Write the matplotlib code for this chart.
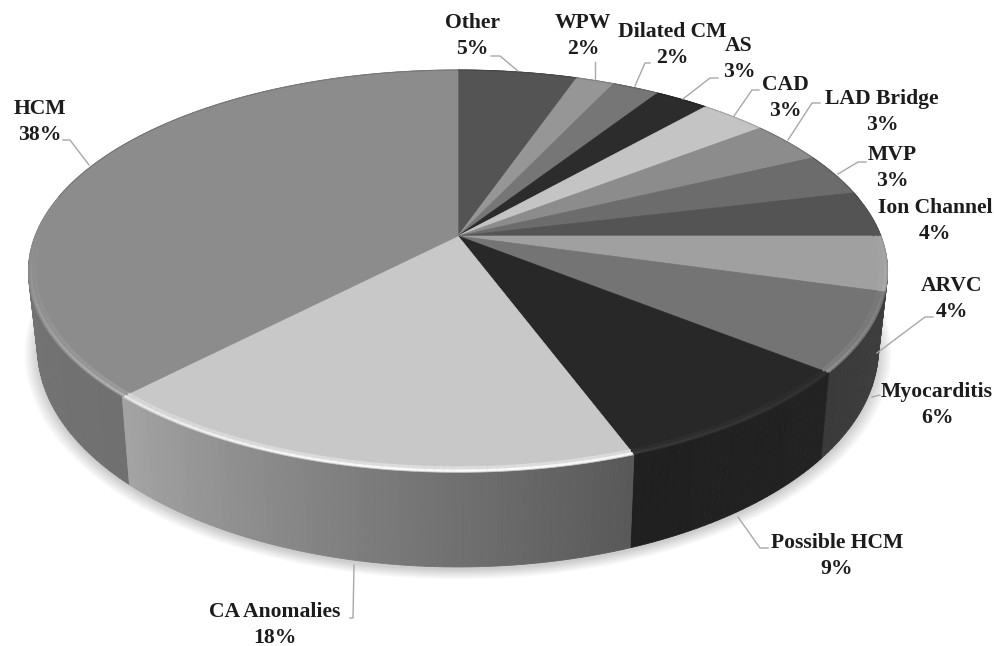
import numpy as np
import matplotlib
matplotlib.use('Agg')
import matplotlib.pyplot as plt

# clockwise from 12 o'clock
names = ['Other', 'WPW', 'Dilated CM', 'AS', 'CAD', 'LAD Bridge', 'MVP', 'Ion Channel',
         'ARVC', 'Myocarditis', 'Possible HCM', 'CA Anomalies', 'HCM']
percent_text = [5, 2, 2, 3, 3, 3, 3, 4, 4, 6, 9, 18, 38]
# slice sizes as measured on the drawing
shares = [5.3, 1.7, 2.1, 2.4, 3.0, 3.4, 3.4, 3.7, 4.4, 6.35, 8.6, 17.85, 37.8]

top_grey = [84, 150, 118, 44, 196, 140, 108, 84, 160, 116, 40, 200, 140]
side_from = [70, 110, 90, 30, 130, 100, 80, 60, 72, 62, 34, 88, 112]
side_to = [70, 110, 90, 30, 130, 100, 80, 60, 66, 58, 32, 165, 126]

label_x = [472, 583, 672, 739, 785, 882, 892, 935, 952, 937, 837, 275, 40]
label_y = [36, 36, 45, 59, 98, 112, 168, 221, 299, 405, 556, 625, 122]

leaders = [
    [(491, 56), (500, 56), (518, 71)],
    [(595, 62), (595, 79)],
    [(650, 63), (645, 63), (635, 86)],
    [(718, 78), (710, 78), (683, 99)],
    [(759, 90), (752, 90), (734, 116)],
    [(820, 103), (812, 103), (788, 140)],
    [(866, 162), (858, 162), (838, 174)],
    [(933, 317), (925, 317), (877, 353)],
    [(880, 395), (872, 397)],
    [(768, 548), (760, 548), (738, 517)],
    [(350, 618), (353, 618), (354, 565)],
    [(63, 140), (70, 140), (89, 165)],
]

cx = 458
k = 0.175


def project(ang, r, y0, a, b):
    # perspective view of the disc, ang in degrees clockwise from top
    X = r * np.sin(np.radians(ang))
    Y = r * np.cos(np.radians(ang))
    d = 1 + k * Y
    return cx + b * X / d, y0 - a * Y / d


def top(ang, r=1.0):
    return project(ang, r, 236, 195, 423)


def bottom(ang, r=1.0):
    return project(ang, r, 310, 212, 414)


def grey(v):
    v = min(max(v, 0), 255) / 255
    return (v, v, v)


fig = plt.figure(figsize=(9.95, 6.46), dpi=100)
ax = fig.add_axes([0, 0, 1, 1])
ax.set_xlim(0, 995)
ax.set_ylim(646, 0)
ax.axis('off')

edges = np.concatenate([[0], np.cumsum(shares)]) * 360 / sum(shares)

# soft shadow under the disc
circle = np.linspace(0, 360, 361)
for grow in np.linspace(1.03, 1.0, 10):
    sx, sy = bottom(circle, grow)
    ax.fill(sx, sy + 3, color='black', alpha=0.02, lw=0, zorder=1)

# rim
quads = []
for i in range(len(shares)):
    steps = np.arange(edges[i], edges[i + 1], 1.0)
    steps = np.append(steps, edges[i + 1])
    for j in range(len(steps) - 1):
        a0, a1 = steps[j], steps[j + 1]
        f = (j + 0.5) / (len(steps) - 1)
        quads.append((np.cos(np.radians(a0)), a0, a1, side_from[i] + (side_to[i] - side_from[i]) * f))
quads.sort(key=lambda q: -q[0])
for _, a0, a1, g in quads:
    tx, ty = top(np.array([a0, a1]))
    bx, by = bottom(np.array([a1, a0]))
    ax.fill(np.r_[tx, bx], np.r_[ty, by], color=grey(g), lw=0.6, zorder=2)

# top face
for i in range(len(shares)):
    arc = np.linspace(edges[i], edges[i + 1], 80)
    x, y = top(arc)
    ax.fill(np.r_[cx, x], np.r_[236, y], color=grey(top_grey[i]), lw=0.5, zorder=3)

# bevel on the top edge, inner line first so it blends outward
for i in range(len(shares)):
    steps = np.append(np.arange(edges[i], edges[i + 1], 1.0), edges[i + 1])
    for a0, a1 in zip(steps[:-1], steps[1:]):
        mid = (a0 + a1) / 2
        front = -np.cos(np.radians(mid))
        arc = np.array([a0, a1])
        if front > -0.2:
            amount = 0.65 * max(front + 0.2, 0) ** 1.8
            g = top_grey[i] + (255 - top_grey[i]) * amount * (top_grey[i] / 200) ** 1.5
            for r, mix, lw in [(0.985, 0.4, 2.6), (0.994, 1.0, 1.8)]:
                x, y = top(arc, r)
                ax.plot(x, y, color=grey(top_grey[i] + (g - top_grey[i]) * mix), lw=lw,
                        solid_capstyle='butt', zorder=4)
        else:
            x, y = top(arc, 1.0)
            ax.plot(x, y, color=grey(top_grey[i] * 0.85), lw=0.8, solid_capstyle='butt', zorder=4)

# leader lines
for pts in leaders:
    ax.plot([p[0] for p in pts], [p[1] for p in pts], color='#a8a8a8', lw=1.0, zorder=5)

for i in range(len(names)):
    ax.text(label_x[i], label_y[i], f'{names[i]}\n{percent_text[i]}%', ha='center', va='center',
            family='Liberation Serif', weight='bold', fontsize=15.6, color='#1c1c1c',
            linespacing=1.36, zorder=6)

fig.savefig('out.png', dpi=100)
